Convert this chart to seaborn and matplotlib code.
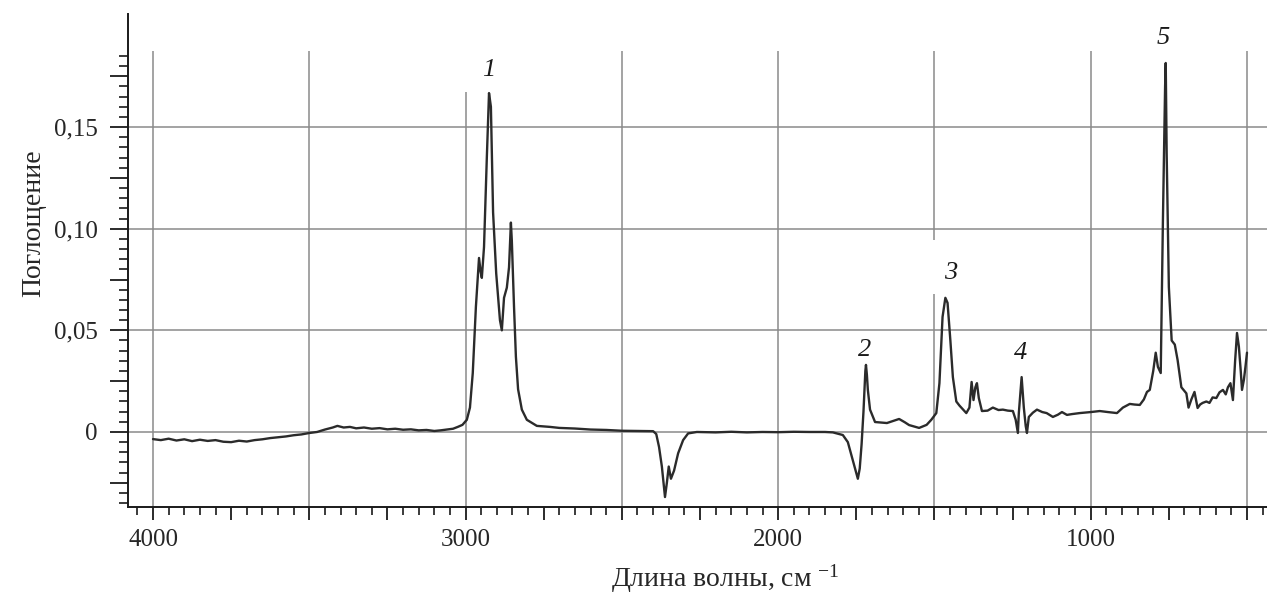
import numpy as np
import matplotlib
matplotlib.use("Agg")
import matplotlib.pyplot as plt
from matplotlib.ticker import FixedLocator, FuncFormatter
import seaborn as sns
import pandas as pd

# ---- data: IR spectrum (wavenumber, absorbance) ----
wavenumber = [
    4000, 3975, 3950, 3925, 3900, 3875, 3850, 3825, 3800, 3775, 3750, 3725, 3700, 3675,
    3650, 3625, 3600, 3575, 3550, 3525, 3500, 3475, 3450, 3425, 3410, 3390, 3370, 3350,
    3325, 3300, 3275, 3250, 3225, 3200, 3175, 3150, 3125, 3100, 3080, 3060, 3040, 3025,
    3010, 2996, 2986, 2977, 2967, 2960, 2957, 2952, 2948, 2941, 2932, 2925, 2919, 2912,
    2902, 2890, 2884, 2877, 2868, 2861, 2855, 2852, 2845, 2839, 2832, 2820, 2804, 2772,
    2730, 2700, 2650, 2600, 2550, 2500, 2450, 2400, 2390, 2381, 2372, 2362, 2356, 2350,
    2343, 2333, 2320, 2304, 2288, 2260, 2200, 2150, 2100, 2050, 2000, 1950, 1900, 1850,
    1825, 1793, 1777, 1761, 1745, 1739, 1733, 1727, 1721, 1719, 1716, 1713, 1706, 1690,
    1652, 1630, 1613, 1595, 1581, 1549, 1525, 1510, 1494, 1484, 1474, 1465, 1458, 1449,
    1441, 1430, 1420, 1398, 1388, 1381, 1375, 1369, 1364, 1358, 1348, 1330, 1313, 1295,
    1281, 1265, 1249, 1240, 1233, 1230, 1221, 1214, 1208, 1204, 1198, 1185, 1172, 1155,
    1141, 1121, 1105, 1092, 1076, 1060, 1035, 1000, 971, 945, 916, 897, 875, 860,
    843, 830, 820, 811, 800, 792, 785, 776, 769, 762, 760, 757, 750, 741,
    731, 722, 710, 694, 687, 678, 668, 658, 650, 642, 630, 620, 610, 598,
    588, 577, 568, 561, 553, 545, 538, 532, 526, 520, 516, 510, 505, 500,
]
absorbance = [
    -0.0035, -0.0040, -0.0033, -0.0042, -0.0036, -0.0045, -0.0038, -0.0044, -0.0040, -0.0048, -0.0050, -0.0043, -0.0047, -0.0040,
    -0.0036, -0.0030, -0.0026, -0.0022, -0.0016, -0.0012, -0.0005, 0.0000, 0.0012, 0.0022, 0.0030, 0.0022, 0.0025, 0.0018,
    0.0022, 0.0016, 0.0019, 0.0013, 0.0016, 0.0011, 0.0013, 0.0008, 0.0010, 0.0005, 0.0008, 0.0012, 0.0016, 0.0025,
    0.0035, 0.0060, 0.0120, 0.0290, 0.0615, 0.0780, 0.0856, 0.0790, 0.0758, 0.0910, 0.1350, 0.1667, 0.1600, 0.1080,
    0.0780, 0.0550, 0.0500, 0.0660, 0.0710, 0.0810, 0.1030, 0.0940, 0.0615, 0.0370, 0.0210, 0.0110, 0.0060, 0.0030,
    0.0025, 0.0020, 0.0017, 0.0012, 0.0010, 0.0006, 0.0005, 0.0004, -0.0010, -0.0074, -0.0170, -0.0320, -0.0250, -0.0170,
    -0.0230, -0.0190, -0.0105, -0.0040, -0.0007, 0.0000, -0.0002, 0.0001, -0.0002, 0.0000, -0.0001, 0.0001, 0.0000, 0.0000,
    -0.0002, -0.0015, -0.0050, -0.0140, -0.0230, -0.0180, -0.0060, 0.0100, 0.0300, 0.0330, 0.0280, 0.0207, 0.0110, 0.0049,
    0.0044, 0.0055, 0.0064, 0.0048, 0.0034, 0.0020, 0.0035, 0.0060, 0.0093, 0.0240, 0.0566, 0.0660, 0.0635, 0.0450,
    0.0270, 0.0150, 0.0130, 0.0093, 0.0120, 0.0246, 0.0157, 0.0220, 0.0240, 0.0167, 0.0103, 0.0105, 0.0120, 0.0108,
    0.0110, 0.0105, 0.0103, 0.0060, -0.0005, 0.0093, 0.0270, 0.0120, 0.0030, -0.0005, 0.0074, 0.0095, 0.0110, 0.0098,
    0.0093, 0.0074, 0.0085, 0.0098, 0.0084, 0.0088, 0.0093, 0.0098, 0.0103, 0.0098, 0.0093, 0.0120, 0.0138, 0.0135,
    0.0133, 0.0160, 0.0197, 0.0207, 0.0300, 0.0390, 0.0320, 0.0290, 0.1040, 0.1700, 0.1815, 0.1370, 0.0713, 0.0450,
    0.0430, 0.0354, 0.0220, 0.0190, 0.0120, 0.0160, 0.0197, 0.0118, 0.0135, 0.0143, 0.0150, 0.0143, 0.0170, 0.0167,
    0.0195, 0.0207, 0.0185, 0.0220, 0.0240, 0.0157, 0.0350, 0.0487, 0.0420, 0.0300, 0.0207, 0.0256, 0.0320, 0.0390,
]
peak_labels = ["1", "2", "3", "4", "5"]
peak_label_x = [2925, 1722, 1447, 1226, 769]
peak_label_y = [0.178, 0.0403, 0.0782, 0.0389, 0.194]

x_tick_labels = ["4000", "3000", "2000", "1000"]
y_tick_labels = {0.0: "0", 0.05: "0,05", 0.10: "0,10", 0.15: "0,15"}

df = pd.DataFrame({"wn": wavenumber, "abs": absorbance})

sns.set_style("white")
plt.rcParams["font.family"] = ["Liberation Serif", "DejaVu Serif"]
plt.rcParams["mathtext.fontset"] = "custom"
plt.rcParams["mathtext.rm"] = "Liberation Serif"
plt.rcParams["mathtext.it"] = "Liberation Serif:italic"

W, H = 1267, 598
fig = plt.figure(figsize=(W / 100, H / 100), dpi=100)
ax = fig.add_axes([128 / W, 1 - 507 / H, 1 - 128 / W, (507 - 14) / H])

ymin, ymax = -0.0369, 0.2056
ax.set_xlim(4080, 436)
ax.set_ylim(ymin, ymax)

grid_c = "#8a8a8a"
grid_lw = 1.1
# horizontal grid
for yv in [0.0, 0.05, 0.10, 0.15]:
    ax.axhline(yv, color=grid_c, lw=grid_lw, zorder=1)
# vertical grid (partial extents as in the reference)
for xv in [4000, 3500, 2500, 2000, 1000, 500]:
    ax.vlines(xv, ymin, 0.1874, color=grid_c, lw=grid_lw, zorder=1)
ax.vlines(3000, ymin, 0.1672, color=grid_c, lw=grid_lw, zorder=1)
ax.vlines(1500, ymin, 0.0679, color=grid_c, lw=grid_lw, zorder=1)
ax.vlines(1500, 0.0944, 0.1874, color=grid_c, lw=grid_lw, zorder=1)

sns.lineplot(data=df, x="wn", y="abs", ax=ax, color="#2b2b2b", linewidth=1.7,
             estimator=None, sort=False, zorder=3)

for sp in ["top", "right"]:
    ax.spines[sp].set_visible(False)
for sp in ["left", "bottom"]:
    ax.spines[sp].set_color("#1a1a1a")
    ax.spines[sp].set_linewidth(1.4)

# ticks
ax.xaxis.set_major_locator(FixedLocator(np.arange(4000, 449, -250)))
ax.xaxis.set_minor_locator(FixedLocator(np.arange(4050, 449, -50)))
ax.xaxis.set_major_formatter(FuncFormatter(
    lambda v, p: str(int(round(v))) if str(int(round(v))) in x_tick_labels else ""))
ax.yaxis.set_major_locator(FixedLocator(np.arange(-0.025, 0.176, 0.025)))
ax.yaxis.set_minor_locator(FixedLocator(np.arange(-0.035, 0.1851, 0.005)))

def yfmt(v, p):
    for k, s in y_tick_labels.items():
        if abs(v - k) < 1e-6:
            return s
    return ""
ax.yaxis.set_major_formatter(FuncFormatter(yfmt))

ax.tick_params(axis="x", which="major", length=9, width=1.3, direction="out",
               color="#1a1a1a", labelsize=18, pad=7, bottom=True)
ax.tick_params(axis="x", which="minor", length=6, width=1.2, direction="out",
               color="#1a1a1a", bottom=True)
ax.tick_params(axis="y", which="major", length=13, width=1.3, direction="out",
               color="#1a1a1a", labelsize=18, pad=9, left=True)
ax.tick_params(axis="y", which="minor", length=6.5, width=1.2, direction="out",
               color="#1a1a1a", left=True)

ax.set_xlabel("Длина волны, см $^{-1}$", fontsize=20)
ax.set_ylabel("Поглощение", fontsize=20)
ax.xaxis.set_label_coords(0.524, -0.112)
ax.yaxis.set_label_coords(-0.072, 0.575)

for lab, xv, yv in zip(peak_labels, peak_label_x, peak_label_y):
    ax.text(xv, yv, lab, fontsize=19, style="italic", ha="center", va="center",
            color="#1a1a1a", zorder=4)

fig.savefig("out.png", dpi=100)
